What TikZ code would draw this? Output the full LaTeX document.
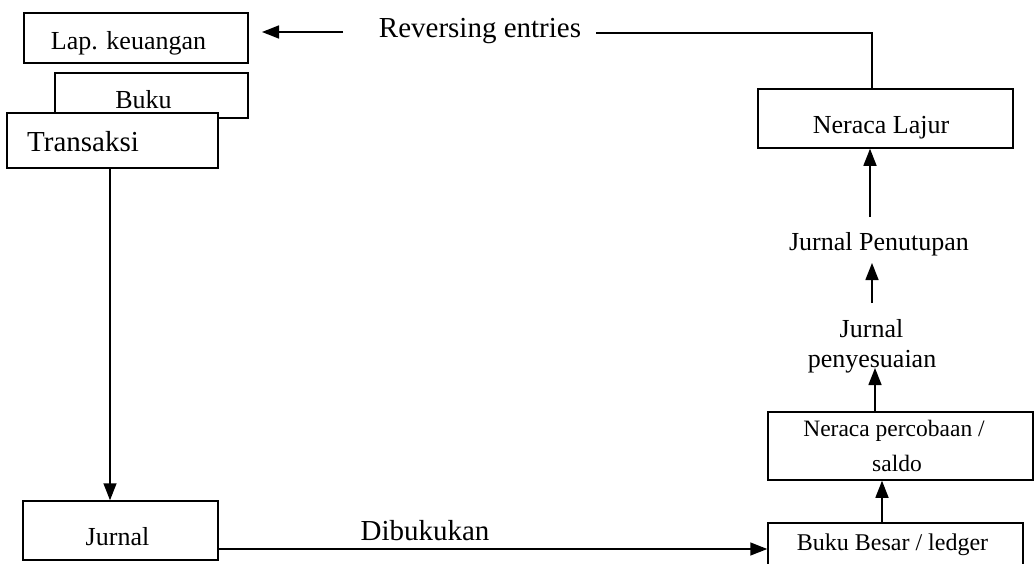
\documentclass[tikz,border=0pt]{standalone}
\usepackage{fontspec}
\setmainfont{Liberation Serif}
\usetikzlibrary{arrows.meta}
\tikzset{
  fs/.style={font=\fontsize{#1}{#1}\selectfont},
  box/.style={draw, line width=1.5pt, fill=white, inner sep=0pt},
  txt/.style={inner sep=0pt, anchor=base},
  arr/.style={line width=1.5pt, -{Triangle[length=17pt,width=13pt]}},
  ln/.style={line width=1.5pt}
}
\begin{document}
\begin{tikzpicture}[x=1pt,y=-1pt]
\useasboundingbox (0,0) rectangle (1034,563);
% left column boxes
\node[box, minimum width=224pt, minimum height=50pt] (lap) at (136,38) {};
\node[txt, fs=26] (laptx) at (128.5,49) {Lap. keuangan};
\node[box, minimum width=193pt, minimum height=45pt] (buku) at (151.5,95.5) {};
\node[txt, fs=26] (bukutx) at (143.5,108) {Buku};
\node[box, minimum width=211pt, minimum height=55pt] (tr) at (112.5,140.5) {};
\node[txt, fs=29, anchor=base west] (trtx) at (27,151) {Transaksi};
\node[box, minimum width=195pt, minimum height=59pt] (jur) at (120.5,530.5) {};
\node[txt, fs=26] (jurtx) at (117.5,545) {Jurnal};
% right column
\node[box, minimum width=255pt, minimum height=48pt] (bb) at (895.5,547) {};
\node[txt, fs=24] (bbtx) at (892.5,550) {Buku Besar / ledger};
\node[box, minimum width=265pt, minimum height=68pt] (np) at (900.5,446) {};
\node[txt, fs=23.5] (nptx1) at (894,436) {Neraca percobaan /};
\node[txt, fs=23.5] (nptx2) at (897,471) {saldo};
\node[txt, fs=26] (jpen1) at (871.5,337) {Jurnal};
\node[txt, fs=26] (jpen2) at (872,367) {penyesuaian};
\node[txt, fs=26] (jput) at (879,250) {Jurnal Penutupan};
\node[box, minimum width=255pt, minimum height=59pt] (nl) at (885.5,118.5) {};
\node[txt, fs=26] (nltx) at (881,133) {Neraca Lajur};
% free labels
\node[txt, fs=29] (rev) at (480,37) {Reversing entries};
\node[txt, fs=29] (dib) at (425,540) {Dibukukan};
% connectors
\coordinate (r1) at (596,33);
\coordinate (c1) at (872,33);
\coordinate (r2) at (343,32);
\coordinate (r3) at (262,32);
\draw[ln] (r1) -- (c1) -- (c1 |- nl.north);
\draw[arr] (r2) -- (r3);
\coordinate (xa) at (110,0);
\draw[arr] (tr.south -| xa) -- (jur.north -| xa);
\coordinate (ya) at (0,549);
\draw[arr] (jur.east |- ya) -- (bb.west |- ya);
\coordinate (xb) at (882,0);
\draw[arr] (bb.north -| xb) -- (np.south -| xb);
\coordinate (jb) at (875,368);
\draw[arr] (np.north -| jb) -- (jb);
\coordinate (ja) at (872,303);
\coordinate (jc) at (872,263);
\draw[arr] (ja) -- (jc);
\coordinate (jd) at (870,217);
\draw[arr] (jd) -- (nl.south -| jd);
\end{tikzpicture}
\end{document}
